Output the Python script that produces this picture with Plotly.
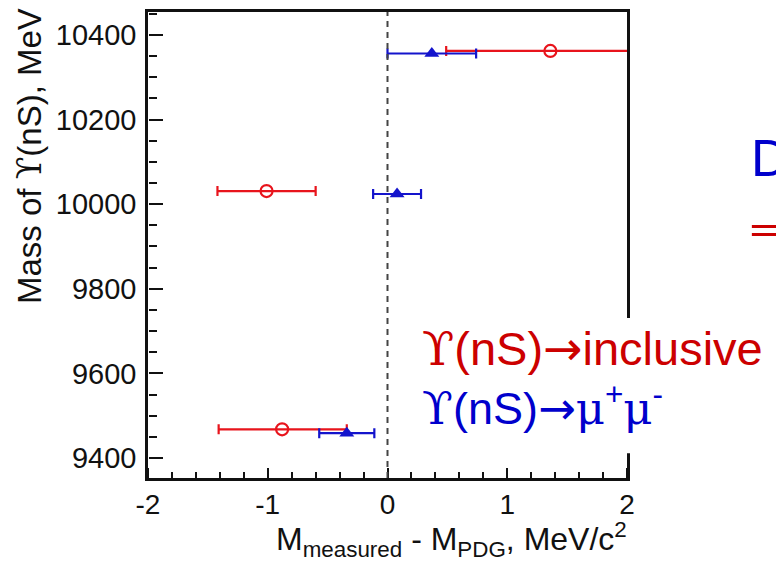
import plotly.graph_objects as go

# ---- data ----
incl_x = [-0.88, -1.01, 1.36]
incl_y = [9468, 10031, 10362]
incl_err_minus = [0.53, 0.41, 0.87]
incl_err_plus = [0.54, 0.41, 0.90]

mumu_x = [-0.34, 0.08, 0.37]
mumu_y = [9459, 10024, 10356]
mumu_err_minus = [0.23, 0.20, 0.37]
mumu_err_plus = [0.23, 0.20, 0.37]

x_ticks = [-2, -1, 0, 1, 2]
y_ticks = [9400, 9600, 9800, 10000, 10200, 10400]
x_range = [-2, 2]
y_range = [9353, 10454]

RED = "#e8141c"
BLUE = "#1414cc"
TXT_RED = "#cc0000"
TXT_BLUE = "#0000cc"
INK = "#111111"
FONT = "Liberation Sans, Arial, sans-serif"
UPS = '<span style="font-family:DejaVu Serif">ϒ</span>'
ARROW = '<span style="font-family:DejaVu Sans">→</span>'
MU = '<span style="font-family:DejaVu Serif">μ</span>'

W, H = 776, 566
L, R, T, B = 148, 149, 9, 88
PW, PH = W - L - R, H - T - B


def px(xp):
    return (xp - L) / PW


def py(yp):
    return (H - B - yp) / PH


fig = go.Figure()

fig.add_trace(go.Scatter(
    x=incl_x, y=incl_y, mode="markers",
    marker=dict(symbol="circle-open", size=12, color=RED, line=dict(width=2.2, color=RED)),
    error_x=dict(type="data", symmetric=False, array=incl_err_plus, arrayminus=incl_err_minus,
                 color=RED, thickness=2.2, width=5),
    showlegend=False,
))
fig.add_trace(go.Scatter(
    x=mumu_x, y=mumu_y, mode="markers",
    marker=dict(symbol="triangle-up", size=13, color=BLUE),
    error_x=dict(type="data", symmetric=False, array=mumu_err_plus, arrayminus=mumu_err_minus,
                 color=BLUE, thickness=2.2, width=5),
    showlegend=False,
))
# invisible trace that activates the overlay axes carrying the inward tick marks
fig.add_trace(go.Scatter(
    x=mumu_x, y=mumu_y, mode="markers", xaxis="x2", yaxis="y2",
    marker=dict(opacity=0), hoverinfo="skip", showlegend=False,
))

fig.add_vline(x=0, line=dict(color="#444444", width=2, dash="6px,5px"))

fig.add_shape(type="rect", xref="paper", yref="paper",
              x0=px(413), x1=px(790), y0=py(453), y1=py(317),
              fillcolor="white", line=dict(width=0), layer="above")

annotations = [
    dict(text="Mass of " + UPS + "(nS), MeV", textangle=-90, x=px(29), y=py(3),
         xanchor="center", yanchor="top", font=dict(size=33, color=INK, family=FONT)),
    dict(text="M<sub>measured</sub> - M<sub>PDG</sub>, MeV/c<sup>2</sup>", x=px(629), y=py(540),
         xanchor="right", yanchor="middle", font=dict(size=32, color=INK, family=FONT)),
    dict(text=UPS + "(nS)" + ARROW + "inclusive", x=px(420), y=py(348), xanchor="left", yanchor="middle",
         font=dict(size=47, color=TXT_RED, family=FONT)),
    dict(text=UPS + "(nS)" + ARROW + MU + "<sup>+</sup>" + MU + "<sup>-</sup>", x=px(420), y=py(405),
         xanchor="left", yanchor="middle",
         font=dict(size=45, color=TXT_BLUE, family=FONT)),
    dict(text="D", x=px(749), y=py(156), xanchor="left", yanchor="middle",
         font=dict(size=52, color=TXT_BLUE, family=FONT)),
    dict(text="⇒", x=px(747), y=py(227), xanchor="left", yanchor="middle",
         font=dict(size=50, color=TXT_RED, family="DejaVu Sans")),
]
for a in annotations:
    a.update(xref="paper", yref="paper", showarrow=False)

fig.update_layout(
    width=W, height=H,
    margin=dict(l=L, r=R, t=T, b=B),
    paper_bgcolor="white", plot_bgcolor="white",
    font=dict(family=FONT, size=28, color=INK),
    annotations=annotations,
    xaxis=dict(
        range=x_range, tickmode="array", tickvals=x_ticks, ticktext=[str(v) for v in x_ticks],
        ticks="", showline=True, linewidth=2.5, linecolor=INK, mirror=True,
        showgrid=False, zeroline=False, tickfont=dict(size=28),
    ),
    yaxis=dict(
        range=y_range, tickmode="array", tickvals=y_ticks, ticktext=[str(v) for v in y_ticks],
        ticks="", showline=True, linewidth=2.5, linecolor=INK, mirror=True,
        showgrid=False, zeroline=False, tickfont=dict(size=29), ticklabelstandoff=3,
    ),
    xaxis2=dict(
        overlaying="x", side="top", anchor="free", position=0, range=x_range,
        tickmode="array", tickvals=x_ticks, showticklabels=False,
        ticks="outside", ticklen=10, tickwidth=2, tickcolor=INK,
        minor=dict(tickmode="linear", tick0=-2, dtick=0.2, ticks="outside", ticklen=6,
                   tickwidth=2, tickcolor=INK, showgrid=False),
        showline=False, showgrid=False, zeroline=False,
    ),
    yaxis2=dict(
        overlaying="y", side="right", anchor="free", position=0, range=y_range,
        tickmode="array", tickvals=y_ticks, showticklabels=False,
        ticks="outside", ticklen=14, tickwidth=2, tickcolor=INK,
        minor=dict(tickmode="linear", tick0=9400, dtick=50, ticks="outside", ticklen=8,
                   tickwidth=2, tickcolor=INK, showgrid=False),
        showline=False, showgrid=False, zeroline=False,
    ),
)

fig.write_html("out.html")
